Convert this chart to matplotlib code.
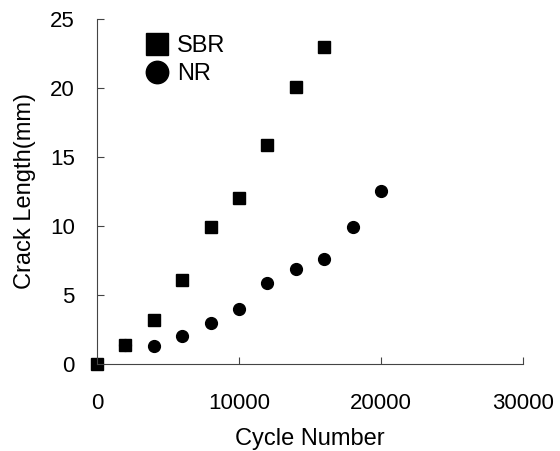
import matplotlib.pyplot as plt

plt.rcParams['font.family'] = ['Liberation Sans', 'DejaVu Sans']

sbr_cycles = [0, 2000, 4000, 6000, 8000, 10000, 12000, 14000, 16000]
sbr_crack = [0.0, 1.4, 3.2, 6.1, 9.9, 12.0, 15.9, 20.1, 23.0]

nr_cycles = [2000, 4000, 6000, 8000, 10000, 12000, 14000, 16000, 18000, 20000]
nr_crack = [1.4, 1.3, 2.0, 3.0, 4.0, 5.9, 6.9, 7.6, 9.9, 12.5]

fig = plt.figure(figsize=(5.6, 4.51), dpi=100)
ax = fig.add_axes([0.173, 0.193, 0.761, 0.765])

ax.plot(sbr_cycles, sbr_crack, 's', color='black', markersize=8.5, label='SBR', clip_on=False)
ax.plot(nr_cycles, nr_crack, 'o', color='black', markersize=8.5, label='NR', clip_on=False)

ax.set_xlim(0, 30000)
ax.set_ylim(0, 25)
ax.set_xticks([0, 10000, 20000, 30000])
ax.set_yticks([0, 5, 10, 15, 20, 25])

for side in ['top', 'right']:
    ax.spines[side].set_visible(False)
for side in ['left', 'bottom']:
    ax.spines[side].set_color('#444444')
    ax.spines[side].set_linewidth(0.8)

ax.tick_params(direction='in', length=5, width=0.8, color='#444444', labelsize=16)
ax.tick_params(axis='y', pad=16)
ax.tick_params(axis='x', pad=21)

ax.set_xlabel('Cycle Number', fontsize=17, labelpad=10)
ax.set_ylabel('Crack Length(mm)', fontsize=17, labelpad=10)

ax.legend(loc='upper left', bbox_to_anchor=(0.075, 1.0), frameon=False, fontsize=17,
          handletextpad=0.35, labelspacing=0.25, markerscale=1.9, handlelength=1.0,
          borderaxespad=0.3)

plt.savefig('out.png', dpi=100)
